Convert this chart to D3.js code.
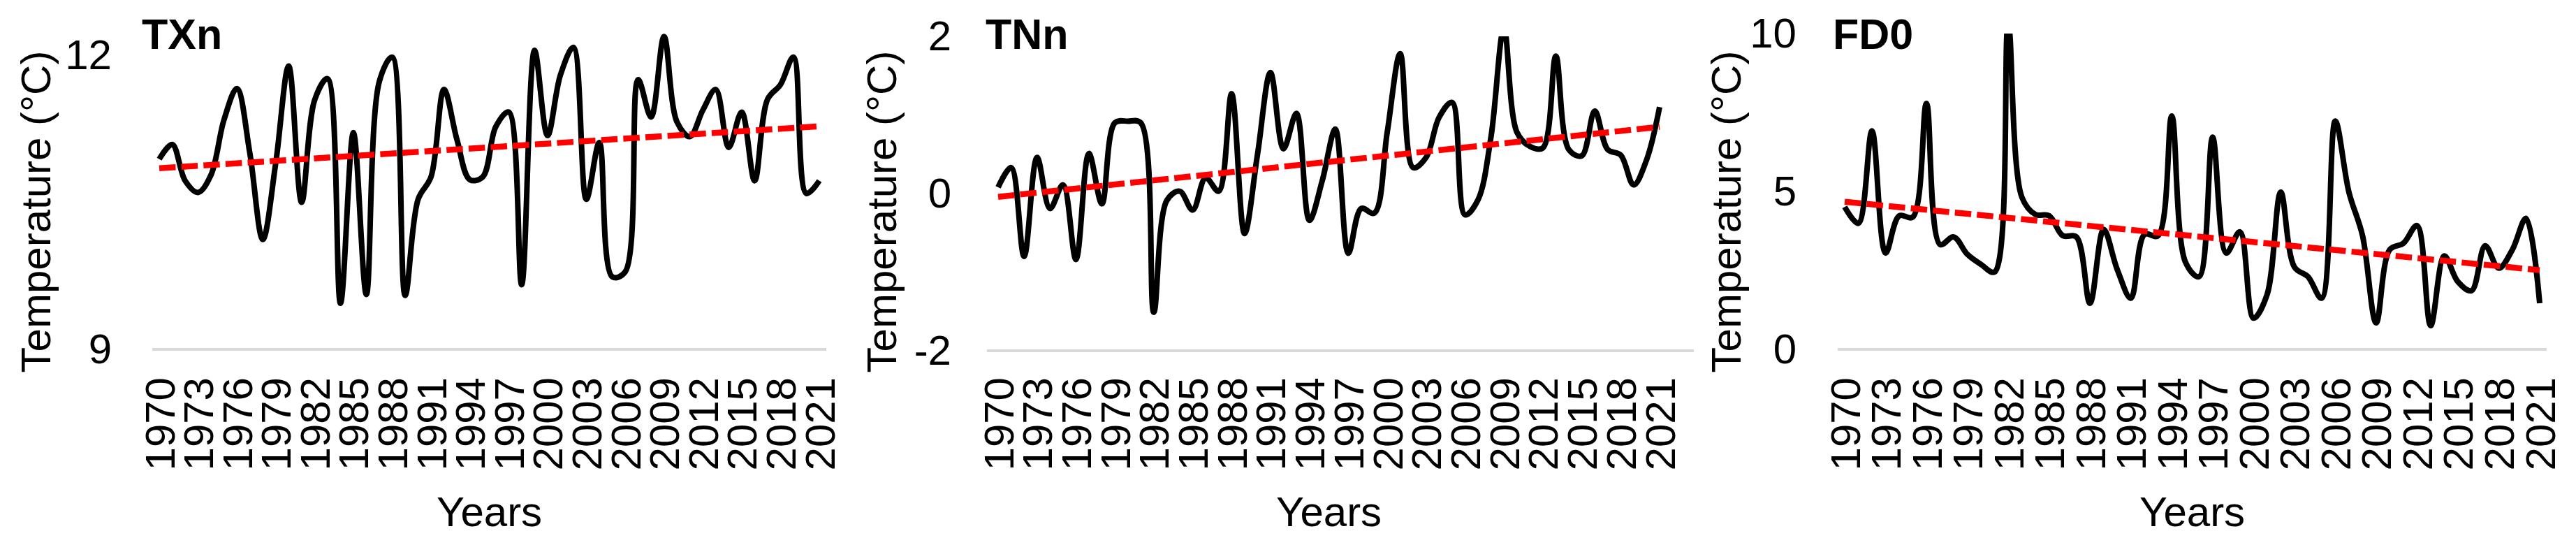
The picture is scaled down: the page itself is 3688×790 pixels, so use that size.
<!DOCTYPE html>
<html>
<head>
<meta charset="utf-8">
<script src="https://cdn.jsdelivr.net/npm/d3@7"></script>
<style>
  body { margin: 0; background: #fff; }
  text { font-family: "Liberation Sans", Arial, sans-serif; }
</style>
</head>
<body>
<svg id="chart" width="3688" height="790"></svg>
<script>
// ---------------- DATA ----------------
const years = [1970,1971,1972,1973,1974,1975,1976,1977,1978,1979,1980,1981,1982,1983,1984,1985,1986,1987,1988,1989,
  1990,1991,1992,1993,1994,1995,1996,1997,1998,1999,2000,2001,2002,2003,2004,2005,2006,2007,2008,2009,
  2010,2011,2012,2013,2014,2015,2016,2017,2018,2019,2020,2021];
const tickYears = [1970,1973,1976,1979,1982,1985,1988,1991,1994,1997,2000,2003,2006,2009,2012,2015,2018,2021];

const txnValues = [10.94,11.09,10.72,10.60,10.78,11.34,11.66,11.00,10.12,10.90,11.89,10.50,11.54,11.76,9.47,11.21,9.56,11.73,11.98,9.55,
  10.53,10.76,11.65,11.14,10.73,10.76,11.27,11.42,9.66,12.05,11.18,11.80,12.08,10.53,11.11,9.74,9.79,11.75,11.37,12.19,
  11.32,11.17,11.44,11.65,11.06,11.42,10.72,11.55,11.70,11.98,10.59,10.72];
const tnnValues = [0.08,0.33,-0.80,0.46,-0.19,0.11,-0.84,0.51,-0.13,0.90,0.92,0.90,-1.51,-0.09,0.03,-0.21,0.20,0.03,1.27,-0.51,
  0.50,1.54,0.57,1.02,-0.34,0.17,0.82,-0.76,-0.19,-0.25,0.78,1.78,0.33,0.46,0.97,1.16,-0.27,-0.08,0.72,2.10,
  0.78,0.60,0.58,1.75,0.56,0.48,1.05,0.56,0.49,0.11,0.43,1.10];
const fd0Values = [4.51,3.99,6.92,3.05,4.23,4.19,7.79,3.32,3.56,3.01,2.69,2.45,10.3,4.82,4.27,4.23,3.60,3.56,1.46,3.80,
  2.53,1.62,3.64,3.60,7.39,2.77,2.30,6.72,3.05,3.72,0.99,1.74,4.98,2.61,2.30,1.62,7.23,4.98,3.60,0.84,
  3.16,3.36,3.92,0.75,2.96,2.14,1.86,3.28,2.57,3.16,4.15,1.46];

const txnTicks = [9, 12];
const tnnTicks = [-2, 0, 2];
const fd0Ticks = [0, 5, 10];
const txnDomain = [9, 12];
const tnnDomain = [-2, 2];
const fd0Domain = [0, 10];
const panelTitles = ["TXn", "TNn", "FD0"];
const yAxisTitle = "Temperature (°C)";
const xAxisTitle = "Years";

// ---------------- LAYOUT ----------------
const panels = [
  { title: panelTitles[0], values: txnValues, ticks: txnTicks, domain: txnDomain, clipTop: 25,
    plotX: [218, 1183], pointX: [228, 1173], yRange: [500, 79], tickRight: 160, yTitleX: 72, titleX: 203 },
  { title: panelTitles[1], values: tnnValues, ticks: tnnTicks, domain: tnnDomain, clipTop: null,
    plotX: [1413, 2425], pointX: [1429, 2376], yRange: [502, 52], tickRight: 1362, yTitleX: 1283, titleX: 1411 },
  { title: panelTitles[2], values: fd0Values, ticks: fd0Ticks, domain: fd0Domain, clipTop: null,
    plotX: [2631, 3646], pointX: [2641, 3636], yRange: [500, 48], tickRight: 2572, yTitleX: 2492, titleX: 2624 }
];

const FONT = 60;
const svg = d3.select("#chart");
svg.append("rect").attr("width", 3688).attr("height", 790).attr("fill", "#fff");
const defs = svg.append("defs");

panels.forEach((p, pi) => {
  const g = svg.append("g");
  const x = d3.scalePoint().domain(years).range(p.pointX);
  const y = d3.scaleLinear().domain(p.domain).range(p.yRange);
  const baseY = p.yRange[0];
  const topY = p.clipTop !== null ? p.clipTop : p.yRange[1];

  // horizontal axis line (light gray)
  g.append("line")
    .attr("x1", p.plotX[0]).attr("x2", p.plotX[1])
    .attr("y1", baseY).attr("y2", baseY)
    .attr("stroke", "#d9d9d9").attr("stroke-width", 4);

  // y axis ticks
  const yAxis = d3.axisLeft(y).tickValues(p.ticks).tickSize(0)
    .tickPadding(p.plotX[0] - p.tickRight).tickFormat(d => String(d));
  const ya = g.append("g").attr("transform", `translate(${p.plotX[0]},0)`).call(yAxis);
  ya.select(".domain").remove();
  ya.selectAll("text").attr("font-size", FONT).attr("fill", "#000")
    .attr("font-family", '"Liberation Sans", Arial, sans-serif').attr("dy", "0.32em");

  // x axis labels (rotated)
  const xAxis = d3.axisBottom(x).tickValues(tickYears).tickSize(0);
  const xa = g.append("g").attr("transform", `translate(0,${baseY})`).call(xAxis);
  xa.select(".domain").remove();
  xa.selectAll("text")
    .attr("font-size", FONT).attr("fill", "#000")
    .attr("font-family", '"Liberation Sans", Arial, sans-serif')
    .attr("transform", "rotate(-90)")
    .attr("x", -(540 - baseY)).attr("y", 0).attr("dy", "0.35em")
    .style("text-anchor", "end");

  // clip
  const clipId = "clip" + pi;
  defs.append("clipPath").attr("id", clipId).append("rect")
    .attr("x", p.plotX[0]).attr("y", topY)
    .attr("width", p.plotX[1] - p.plotX[0]).attr("height", baseY - topY);

  // data line
  const line = d3.line().x((d, i) => x(years[i])).y(d => y(d)).curve(d3.curveCatmullRom.alpha(0.5));
  g.append("path").datum(p.values)
    .attr("clip-path", `url(#${clipId})`)
    .attr("d", line).attr("fill", "none")
    .attr("stroke", "#000").attr("stroke-width", 8)
    .attr("stroke-linejoin", "round");

  // linear trend (least squares)
  const n = p.values.length;
  const xs = d3.range(1, n + 1);
  const mx = d3.mean(xs), my = d3.mean(p.values);
  const slope = d3.sum(xs, (xi, i) => (xi - mx) * (p.values[i] - my)) / d3.sum(xs, xi => (xi - mx) ** 2);
  const icpt = my - slope * mx;
  const trend = [years[0], years[n - 1]].map((yr, k) => ({ yr, v: icpt + slope * (k === 0 ? 1 : n) }));
  g.append("path").datum(trend)
    .attr("d", d3.line().x(d => x(d.yr)).y(d => y(d.v)))
    .attr("fill", "none").attr("stroke", "#ff0000").attr("stroke-width", 8.5)
    .attr("stroke-dasharray", "23.5 8.2");

  // panel title
  g.append("text").attr("x", p.titleX).attr("y", 70)
    .attr("font-size", 61).attr("font-weight", "bold").attr("fill", "#000").text(p.title);

  // y axis title
  g.append("text")
    .attr("transform", `translate(${p.yTitleX},303) rotate(-90)`)
    .attr("text-anchor", "middle").attr("font-size", FONT).attr("fill", "#000").text(yAxisTitle);

  // x axis title
  g.append("text").attr("x", (p.pointX[0] + p.pointX[1]) / 2).attr("y", 753)
    .attr("text-anchor", "middle").attr("font-size", FONT).attr("fill", "#000").text(xAxisTitle);
});
</script>
</body>
</html>
